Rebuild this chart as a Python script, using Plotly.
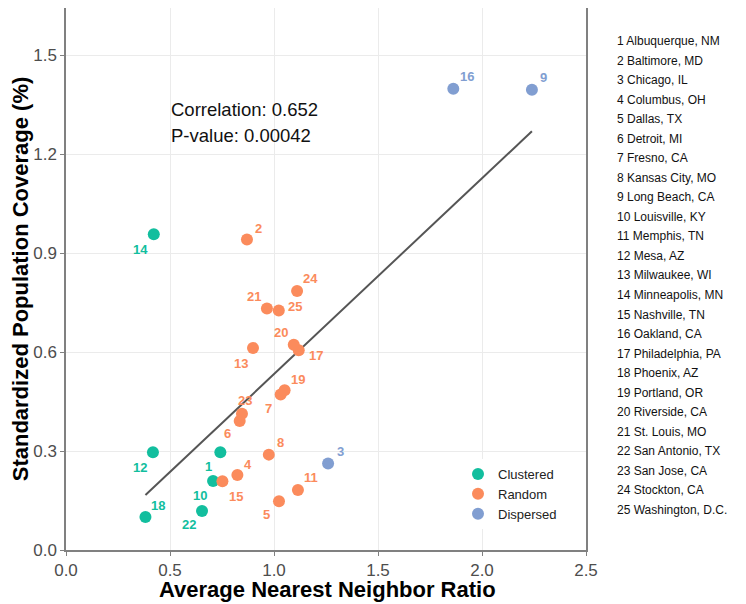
import numpy as np
import plotly.graph_objects as go

# ---------------- data ----------------
city_ids = list(range(1, 26))
city_names = [
    "Albuquerque, NM", "Baltimore, MD", "Chicago, IL", "Columbus, OH", "Dallas, TX",
    "Detroit, MI", "Fresno, CA", "Kansas City, MO", "Long Beach, CA", "Louisville, KY",
    "Memphis, TN", "Mesa, AZ", "Milwaukee, WI", "Minneapolis, MN", "Nashville, TN",
    "Oakland, CA", "Philadelphia, PA", "Phoenix, AZ", "Portland, OR", "Riverside, CA",
    "St. Louis, MO", "San Antonio, TX", "San Jose, CA", "Stockton, CA", "Washington, D.C.",
]
nn_ratio = [0.742, 0.870, 1.260, 0.824, 1.024, 0.835, 1.032, 0.975, 2.240, 0.707,
            1.115, 0.418, 0.899, 0.422, 0.752, 1.862, 1.119, 0.382, 1.051, 1.095,
            0.966, 0.654, 0.846, 1.111, 1.023]
coverage = [0.296, 0.941, 0.262, 0.227, 0.148, 0.391, 0.471, 0.289, 1.395, 0.209,
            0.182, 0.296, 0.612, 0.957, 0.208, 1.398, 0.605, 0.100, 0.484, 0.622,
            0.732, 0.118, 0.413, 0.785, 0.726]
pattern = ["Clustered", "Random", "Dispersed", "Random", "Random",
           "Random", "Random", "Random", "Dispersed", "Clustered",
           "Random", "Clustered", "Random", "Clustered", "Random",
           "Dispersed", "Random", "Clustered", "Random", "Random",
           "Random", "Clustered", "Random", "Random", "Random"]
pattern_order = ["Clustered", "Random", "Dispersed"]
x_ticks = [0.0, 0.5, 1.0, 1.5, 2.0, 2.5]
y_ticks = [0.0, 0.3, 0.6, 0.9, 1.2, 1.5]
stats_text = ["Correlation: 0.652", "P-value: 0.00042"]
x_title = "Average Nearest Neighbor Ratio"
y_title = "Standardized Population Coverage (%)"

# ---------------- style ----------------
colors = {"Clustered": "#12BE9E", "Random": "#FB8B5C", "Dispersed": "#819ED1"}
# label offsets in pixels (dx right, dy down)
label_offsets = {
    1: (-12, 14), 2: (12, -11), 3: (12, -12), 4: (11, -11), 5: (-12, 13),
    6: (-12, 13), 7: (-12, 14), 8: (12, -12), 9: (12, -12), 10: (-13, 14),
    11: (13, -12), 12: (-13, 15), 13: (-12, 15), 14: (-13, 15), 15: (14, 15),
    16: (14, -12), 17: (17, 5), 18: (13, -12), 19: (13, -11), 20: (-13, -12),
    21: (-13, -12), 22: (-13, 13), 23: (3, -13), 24: (13, -12), 25: (16, -4),
}
FONT = "Liberation Sans, Arial, sans-serif"

# page offset: browser's default body margin shifts the figure by 8px
OFF = 8
W, H = 746, 604
# desired on-screen plot box: left 66, right 586, top 6 (clipped to 8), bottom 550
ml = 66 - OFF
mr = W - (586 - OFF)
mt = 0
mb = H - (550 - OFF)
pw, ph = W - ml - mr, H - mt - mb
y_top = ph / 330.0  # keep 330 px per unit

fig = go.Figure()

# regression line (least squares over all cities)
xa = np.array(nn_ratio)
ya = np.array(coverage)
slope, intercept = np.polyfit(xa, ya, 1)
xl = np.array([xa.min(), xa.max()])
fig.add_trace(go.Scatter(x=xl, y=slope * xl + intercept, mode="lines",
                         line=dict(color="#555555", width=2),
                         showlegend=False, hoverinfo="skip"))

for p in pattern_order:
    idx = [i for i, q in enumerate(pattern) if q == p]
    fig.add_trace(go.Scatter(
        x=[nn_ratio[i] for i in idx], y=[coverage[i] for i in idx],
        mode="markers", name=p,
        marker=dict(color=colors[p], size=12, line=dict(width=0)),
    ))

annotations = []
for i, cid in enumerate(city_ids):
    dx, dy = label_offsets[cid]
    annotations.append(dict(
        x=nn_ratio[i], y=coverage[i], xref="x", yref="y", text=str(cid),
        showarrow=False, xshift=dx, yshift=-dy,
        font=dict(family=FONT, size=13, color=colors[pattern[i]], weight="bold"),
    ))

# stats text
for k, t in enumerate(stats_text):
    annotations.append(dict(
        x=0.5, y=[1.336, 1.255][k], xref="x", yref="y", text=t, showarrow=False,
        xanchor="left", yanchor="middle", xshift=-1,
        font=dict(family=FONT, size=18.5, color="#111111"),
    ))

# x axis title (placed as text under the axis)
annotations.append(dict(
    x=(327 - OFF - ml) / pw, y=(H - mb - (589 - OFF)) / ph, xref="paper", yref="paper",
    text=x_title, showarrow=False, xanchor="center", yanchor="middle", borderpad=0,
    font=dict(family=FONT, size=22, color="#000000", weight="bold"),
))

# right side city list
for k, (cid, nm) in enumerate(zip(city_ids, city_names)):
    ypix = 41 + k * 19.54 - OFF
    annotations.append(dict(
        x=(615 - OFF - ml) / pw, y=(H - mb - ypix) / ph, xref="paper", yref="paper",
        text=f"{cid} {nm}", showarrow=False, xanchor="left", yanchor="middle",
        font=dict(family=FONT, size=12, color="#111111"),
    ))

fig.update_layout(
    width=W, height=H,
    margin=dict(l=ml, r=mr, t=mt, b=mb, autoexpand=False),
    plot_bgcolor="white", paper_bgcolor="white",
    annotations=annotations,
    legend=dict(x=(458 - OFF - ml) / pw, y=(H - mb - (459 - OFF)) / ph,
                xanchor="left", yanchor="top",
                bgcolor="white", font=dict(family=FONT, size=13, color="#222222"),
                itemsizing="constant", tracegroupgap=0),
    font=dict(family=FONT),
    showlegend=True,
)
axis_common = dict(
    showgrid=True, gridcolor="#EBEBEB", gridwidth=1,
    showline=True, linecolor="#808080", linewidth=1.5, mirror=True,
    ticks="outside", ticklen=4, tickcolor="#808080", tickwidth=1,
    tickfont=dict(family=FONT, size=17, color="#4D4D4D"),
    zeroline=False, tickformat=".1f", automargin=False,
)
fig.update_xaxes(range=[0, 2.5], tickvals=x_ticks, **axis_common)
fig.update_yaxes(range=[0, y_top], tickvals=y_ticks, **axis_common,
                 title=dict(text=y_title, standoff=2,
                            font=dict(family=FONT, size=22, color="#000000", weight="bold")))

fig.write_html("out.html")
